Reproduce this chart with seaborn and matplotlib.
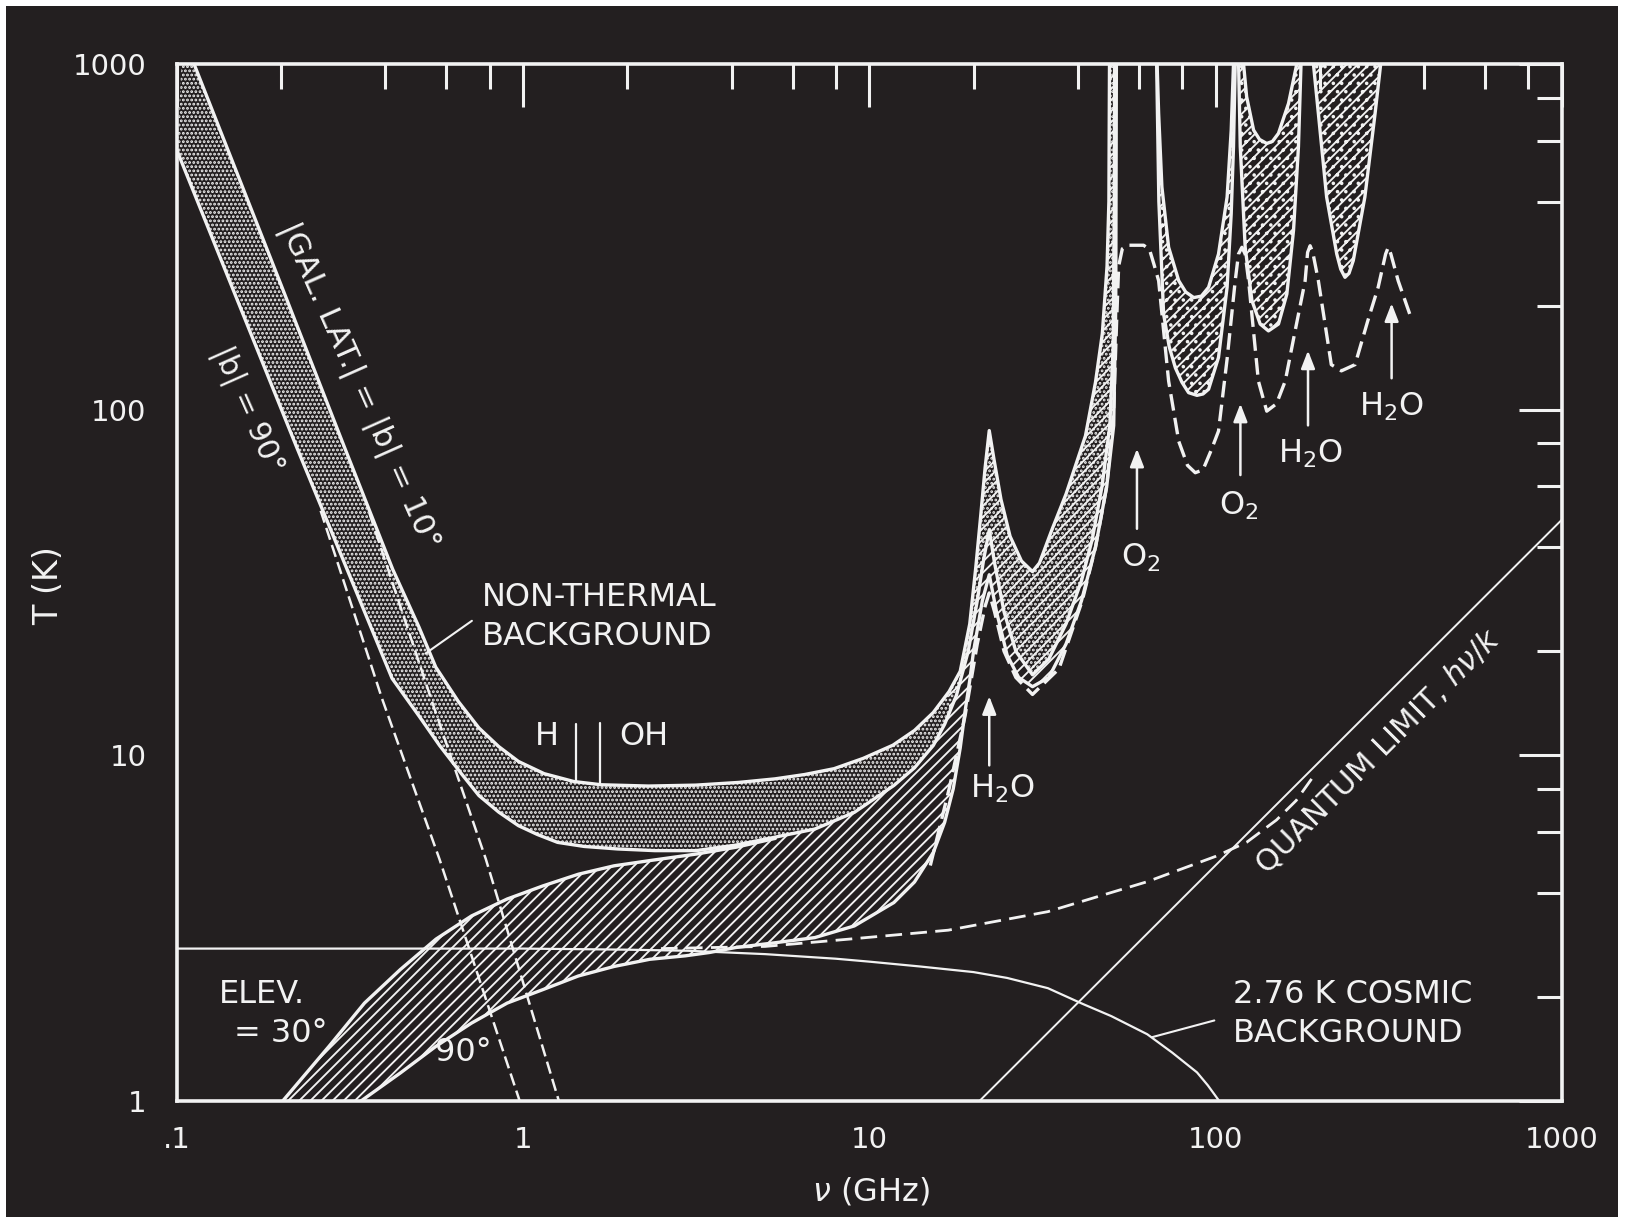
import matplotlib
matplotlib.use("Agg")
import matplotlib.pyplot as plt
from matplotlib.patches import Rectangle
from matplotlib.ticker import LogLocator, FixedLocator, FixedFormatter, NullFormatter
import seaborn as sns
import pandas as pd

# ---------------- data (frequency GHz, temperature K) ----------------
U_nu = [0.104, 0.112, 0.2, 0.305, 0.42, 0.5, 0.559, 0.65, 0.745, 0.85, 0.969, 1.15, 1.40, 1.68, 2.3,
        3.15, 4.2, 5.34, 6.5, 7.91, 9.6, 11.7, 13.5, 15.3, 17.0, 18.3, 19.5, 20.3, 21.0, 21.6, 22.2,
        22.9, 24.0, 25.5, 27.5, 29.6, 31.0, 33.7, 37.0, 42.1, 45.0, 47.1, 48.6, 49.2, 49.4, 49.5]
U_T = [1200, 1000, 229, 77.6, 34.5, 23.5, 18.0, 14.3, 12.0, 10.6, 9.6, 8.85, 8.4, 8.22, 8.15,
       8.2, 8.35, 8.55, 8.8, 9.15, 9.8, 10.7, 11.8, 13.3, 15.3, 17.5, 24, 35, 50, 68, 87,
       72, 55, 43, 36.5, 34, 36, 45, 57, 84, 120, 166, 260, 400, 1000, 2000]

L_nu = [0.1, 0.222, 0.418, 0.5, 0.573, 0.66, 0.745, 0.85, 0.969, 1.1, 1.257, 1.5, 1.871, 2.4, 3.16,
        4.115, 5.35, 6.96, 9.05, 11.77, 13.5, 15.31, 16.5, 17.84, 19.3, 20.5, 21.4, 22.2, 23.0, 24.5,
        26.5, 29.6, 33.0, 37.0, 41.0, 44.0, 47.0, 49.5, 50.6, 51.0, 51.2]
L_T = [562, 77.6, 16.7, 13.0, 10.69, 8.9, 7.65, 6.85, 6.26, 5.9, 5.60, 5.45, 5.36, 5.3, 5.30,
       5.50, 5.80, 6.12, 6.84, 8.18, 9.2, 10.69, 12.3, 14.9, 20, 28, 37, 44.9, 36, 26,
       20, 17.1, 19, 24, 32, 42, 60, 90, 150, 400, 2000]

H30_nu = [0.19, 0.202, 0.275, 0.348, 0.4416, 0.56, 0.709, 0.899, 1.14, 1.444, 1.83, 2.32, 3.16, 4.115, 5.35]
H30_T = [0.9, 1.0, 1.44, 1.92, 2.40, 2.94, 3.43, 3.84, 4.19, 4.53, 4.79, 4.96, 5.18, 5.42, 5.75]

H90_nu = [0.32, 0.34, 0.4416, 0.56, 0.709, 0.899, 1.14, 1.444, 1.83, 2.32, 2.94, 3.46, 4.115, 5.35, 6.96,
          9.05, 11.77, 13.5, 15.31, 16.5, 17.47, 18.3, 18.89, 19.5, 20.0, 21.2, 22.2, 23.3, 25.0, 27.0,
          29.6, 33.0, 37.0, 41.0, 45.0, 48.5, 50.8, 51.5, 51.8]
H90_T = [0.9, 1.0, 1.205, 1.44, 1.68, 1.92, 2.10, 2.30, 2.45, 2.57, 2.63, 2.69, 2.78, 2.87, 2.97,
         3.21, 3.75, 4.3, 5.24, 6.4, 8.0, 10.5, 13.35, 16.5, 20, 28, 33.3, 26, 19.5, 16.8,
         15.8, 16.8, 21, 28, 40, 60, 90, 200, 2000]

D_nu = [15.0, 17.0, 18.9, 20.5, 21.6, 22.2, 23.0, 24.5, 26.5, 29.6, 35.3, 41.2, 45.0, 48.5, 50.8,
        51.8, 52.5, 53.8, 56.0, 62.0, 64.5, 66.5, 68.5, 73.2, 78.3, 83.0, 87.4, 92.0, 97.0, 102, 108,
        114, 116.5, 119.2, 121.8, 124.6, 133, 140.6, 150, 159, 170, 181.5, 184.5, 187.6, 191.0, 198.2,
        216, 231, 253, 275, 295, 310, 315.5, 321, 337, 364]
D_T = [4.8, 8.0, 13.0, 21, 27, 29.5, 26, 20, 16.8, 15.0, 17.8, 28, 40, 60, 100,
       180, 260, 292, 299, 299, 290, 262, 236, 121, 81, 69, 65.7, 67, 76, 86.7, 140,
       236, 282, 295, 282, 236, 121, 99, 104, 121, 170, 236, 285, 298, 285, 236,
       135, 129.5, 135, 180, 226, 282, 295, 282, 236, 189]

V1o_nu = [67.4, 67.6, 68.6, 70.8, 73.5, 76.6, 80.0, 83.6, 88.4, 92.0, 95.5, 102, 108, 111, 112.7, 114, 114.5]
V1o_T = [2000, 1000, 400, 189, 152, 132, 120, 112, 110, 111, 114.6, 141.6, 226, 369, 576, 1000, 2000]
V1i_nu = [67.7, 67.8, 68.5, 70.0, 73.2, 78.3, 82.0, 86.5, 91.0, 95.5, 102, 108, 111, 112.7, 113.0]
V1i_T = [2000, 1000, 719, 441, 295, 236, 219, 211, 213, 226, 282, 412, 644, 1000, 2000]
V2o_nu = [116.4, 116.6, 117.9, 121.8, 127.4, 134.6, 142.2, 152, 160.7, 168, 173.6, 176.6, 177.0]
V2o_T = [2000, 1000, 576, 295, 206.8, 176.9, 169, 176.9, 216, 330, 576, 1000, 2000]
V2i_nu = [120.3, 120.5, 123, 128.8, 134.0, 140.6, 146.0, 152, 162.5, 171.7, 172.2]
V2i_T = [2000, 1000, 804, 644, 605, 589, 597, 630, 769, 1000, 2000]
V3_nu = [191.5, 191.8, 198.2, 209.4, 224, 230, 236.6, 243, 250, 270, 289, 300, 300.5]
V3_T = [2000, 1000, 719, 412, 282, 255, 241.5, 248, 270, 412, 719, 1000, 2000]

G1_nu = [0.26, 0.391, 0.573, 0.977]
G1_T = [51, 14.6, 5.01, 1.0]
G2_nu = [0.36, 0.5416, 0.78, 1.268]
G2_T = [50, 14.6, 5.01, 1.0]

CMB_nu = [0.1, 1.0, 2.0, 3.0, 5.0, 8.0, 10, 14, 20, 25, 32.8, 41.3, 50, 63.5, 75, 88.4, 95, 102.5]
CMB_T = [2.76, 2.76, 2.74, 2.72, 2.66, 2.58, 2.53, 2.45, 2.36, 2.27, 2.12, 1.91, 1.76, 1.56, 1.38, 1.21, 1.11, 1.0]

QD_nu = [2.5, 5.0, 8.75, 16.9, 32.8, 63.5, 100, 122.9, 150, 171, 195]
QD_T = [2.76, 2.8, 2.94, 3.12, 3.53, 4.31, 5.1, 5.6, 6.5, 7.4, 8.9]

Q_nu = [20.8, 1000]
Q_T = [1.0, 48.0]

HI_nu, OH_nu = 1.42, 1.667
x_ticks = [0.1, 1, 10, 100, 1000]
x_labels = [".1", "1", "10", "100", "1000"]
y_ticks = [1, 10, 100, 1000]
y_labels = ["1", "10", "100", "1000"]

# ---------------- style ----------------
BG = "#231f20"
FG = "#f2f2f2"
sns.set_theme(style="dark")
plt.rcParams["font.family"] = ["DejaVu Sans"]
plt.rcParams["hatch.color"] = FG
plt.rcParams["hatch.linewidth"] = 1.35
plt.rcParams["mathtext.fontset"] = "dejavusans"

fig = plt.figure(figsize=(16.26, 12.17), dpi=100, facecolor="white")
fig.patches.append(Rectangle((6 / 1626, 0), (1618 - 6) / 1626, (1217 - 6) / 1217,
                             transform=fig.transFigure, facecolor=BG, edgecolor="none", zorder=-10))
ax = fig.add_axes([0.10886, 0.09532, 0.85159, 0.85209])
ax.set_facecolor(BG)
ax.set_xscale("log")
ax.set_yscale("log")
ax.set_xlim(0.1, 1000)
ax.set_ylim(1, 1000)


def poly(ax, xs, ys, hatch, zorder=1, clip=None):
    p = ax.fill(xs, ys, facecolor="none", edgecolor=FG, hatch=hatch, linewidth=0, zorder=zorder)[0]
    if clip is not None:
        r = Rectangle((clip[0], 1.0), clip[1] - clip[0], 999.0, transform=ax.transData)
        p.set_clip_path(r)
    return p


# stippled non-thermal band
poly(ax, U_nu + L_nu[::-1], U_T + L_T[::-1], "....")
poly(ax, U_nu + L_nu[::-1], U_T + L_T[::-1], "///", clip=(17, 60))
# hatched atmosphere band
up_nu = H30_nu + [v for v in L_nu if v > 5.5]
up_T = H30_T + [t for v, t in zip(L_nu, L_T) if v > 5.5]
poly(ax, up_nu + H90_nu[::-1], up_T + H90_T[::-1], "///")
# V-shaped line regions
poly(ax, V1o_nu + V1i_nu[::-1], V1o_T + V1i_T[::-1], "///..")
poly(ax, V2o_nu + V2i_nu[::-1], V2o_T + V2i_T[::-1], "///..")
poly(ax, V3_nu, V3_T, "///..")


def line(xs, ys, lw=2.4, **kw):
    df = pd.DataFrame({"nu": xs, "T": ys})
    sns.lineplot(data=df, x="nu", y="T", ax=ax, color=FG, lw=lw, estimator=None, sort=False,
                 legend=False, zorder=3, **kw)


for xs, ys in [(U_nu, U_T), (L_nu, L_T), (H30_nu, H30_T), (H90_nu, H90_T),
               (V1o_nu, V1o_T), (V1i_nu, V1i_T), (V2o_nu, V2o_T), (V2i_nu, V2i_T), (V3_nu, V3_T)]:
    line(xs, ys)
dash = (0, (5, 2.2))
line(D_nu, D_T, lw=2.4, linestyle=dash)
line(G1_nu, G1_T, lw=1.8, linestyle=dash)
line(G2_nu, G2_T, lw=1.8, linestyle=dash)
line(QD_nu, QD_T, lw=2.0, linestyle=(0, (6, 3)))
line(CMB_nu, CMB_T, lw=1.6)
line(Q_nu, Q_T, lw=1.4)

# H and OH line markers
line([HI_nu, HI_nu], [8.36, 12.3], lw=1.6)
line([OH_nu, OH_nu], [8.22, 12.4], lw=1.6)

# ---------------- axes ----------------
for s in ax.spines.values():
    s.set_color(FG)
    s.set_linewidth(2.6)
ax.xaxis.set_major_locator(FixedLocator(x_ticks))
ax.xaxis.set_major_formatter(FixedFormatter(x_labels))
ax.yaxis.set_major_locator(FixedLocator(y_ticks))
ax.yaxis.set_major_formatter(FixedFormatter(y_labels))
ax.xaxis.set_minor_locator(LogLocator(base=10, subs=[2, 4, 6, 8], numticks=20))
ax.yaxis.set_minor_locator(LogLocator(base=10, subs=[2, 4, 6, 8], numticks=20))
ax.xaxis.set_minor_formatter(NullFormatter())
ax.yaxis.set_minor_formatter(NullFormatter())
ax.tick_params(which="both", direction="in", top=True, right=True, colors=FG, labelcolor=FG)
ax.tick_params(which="major", length=31, width=2.2, labelsize=21)
ax.tick_params(which="minor", length=18, width=2.2)
ax.tick_params(axis="x", which="major", pad=18)
ax.tick_params(axis="y", which="major", pad=22)
ax.grid(False)

ax.set_xlabel(r"$\nu$ (GHz)", color=FG, fontsize=23)
ax.set_ylabel("T (K)", color=FG, fontsize=24)
ax.xaxis.set_label_coords(0.501, -0.072)
ax.yaxis.set_label_coords(-0.081, 0.497)

# ---------------- annotations ----------------
tk = dict(color=FG, fontsize=23, zorder=5)
ax.text(0.335, 117, "|GAL. LAT.| = |b| = 10°", rotation=-66, ha="center", va="center",
        rotation_mode="anchor", color=FG, fontsize=22.5, zorder=5)
ax.text(0.160, 99.5, "|b| = 90°", rotation=-66, ha="center", va="center",
        rotation_mode="anchor", color=FG, fontsize=21.5, zorder=5)
ax.text(0.762, 28.6, "NON-THERMAL", ha="left", va="center", **tk)
ax.text(0.762, 22.1, "BACKGROUND", ha="left", va="center", **tk)
line([0.711, 0.522], [24.5, 19.7], lw=1.5)
ax.text(1.168, 11.3, "H", ha="center", va="center", **tk)
ax.text(1.89, 11.3, "OH", ha="left", va="center", **tk)
ax.text(0.1317, 2.03, "ELEV.", ha="left", va="center", **tk)
ax.text(0.146, 1.57, "= 30°", ha="left", va="center", **tk)
ax.text(0.673, 1.38, "90°", ha="center", va="center", **tk)
ax.text(112, 2.03, "2.76 K COSMIC", ha="left", va="center", **tk)
ax.text(112, 1.57, "BACKGROUND", ha="left", va="center", **tk)
line([99.2, 65.6], [1.71, 1.53], lw=1.5)
ax.text(294, 10.3, r"QUANTUM LIMIT, $h\nu/k$", rotation=45, ha="center", va="center",
        rotation_mode="anchor", color=FG, fontsize=22, zorder=5)

arrows = [(22.2, 9.18, 15.1, r"H$_2$O", 24.3, 7.99),
          (59.3, 44.4, 78.5, r"O$_2$", 61.0, 37.2),
          (118.0, 63.5, 106, r"O$_2$", 116.5, 52.6),
          (185.0, 88.4, 151, r"H$_2$O", 188, 74.4),
          (322.6, 121, 206.8, r"H$_2$O", 323, 101.6)]
for x, y0, y1, lab, lx, ly in arrows:
    ax.annotate("", xy=(x, y1), xytext=(x, y0),
                arrowprops=dict(arrowstyle="-|>,head_length=0.9,head_width=0.35", color=FG, lw=1.8),
                zorder=5)
    ax.text(lx, ly, lab, ha="center", va="center", **tk)

fig.savefig("out.png", dpi=100, facecolor="white")
